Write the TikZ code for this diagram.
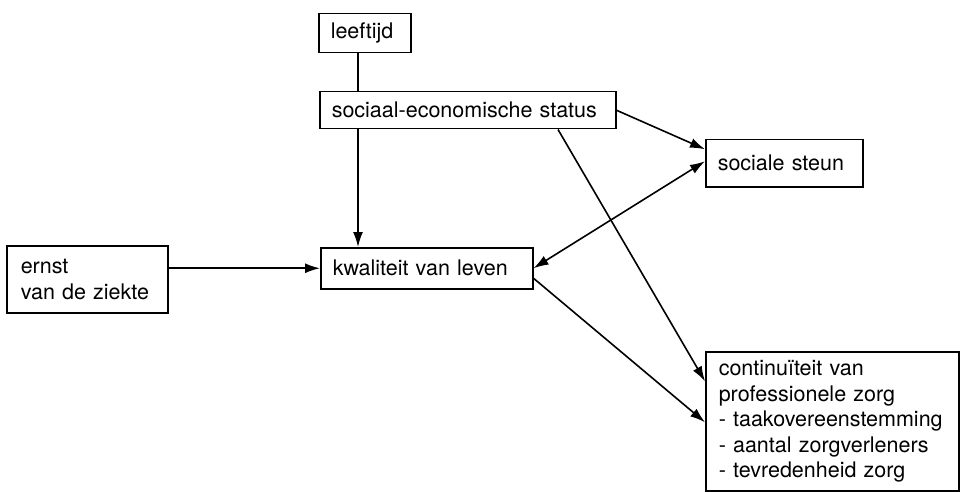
\documentclass[tikz,border=0pt]{standalone}
\usepackage{fontspec}
\setmainfont{TeX Gyre Heros}
\usetikzlibrary{arrows.meta}
\begin{document}
\begin{tikzpicture}[x=1pt,y=-1pt,
  box/.style={draw=black,line width=1.5pt,anchor=north west,inner xsep=12pt,inner ysep=0pt,
    align=left,font=\fontsize{21.5}{25.5}\selectfont},
  conn/.style={line width=1.6pt},
  arr/.style={conn,-{Latex[length=15pt,width=10pt]}},
  biarr/.style={conn,{Latex[length=15pt,width=10pt]}-{Latex[length=15pt,width=10pt]}}]
\useasboundingbox (0,0) rectangle (961,492);
\node[box,minimum width=92,minimum height=39,text width=68] (leeftijd) at (318,13) {leeftijd};
\node[box,minimum width=296,minimum height=37,text width=272] (ses) at (319,91) {sociaal-economische status};
\node[box,minimum width=212,minimum height=41,text width=188] (kw) at (320,247) {kwaliteit van leven};
\node[box,minimum width=161,minimum height=67,text width=133,inner xsep=14pt] (ernst) at (6,245) {ernst\\van de ziekte};
\node[box,minimum width=157,minimum height=47,text width=133] (steun) at (705,139) {sociale steun};
\node[box,minimum width=253,minimum height=139,text width=227,inner xsep=13pt] (cont) at (705,351) {continuïteit van\\professionele zorg\\- taakovereenstemming\\- aantal zorgverleners\\- tevredenheid zorg};
\coordinate (cx) at (358,0);
\coordinate (cs) at (558,0);
\draw[conn] (leeftijd.south -| cx) -- (ses.north -| cx);
\draw[arr] (ses.south -| cx) -- (kw.north -| cx);
\draw[arr] (kw.west -| ernst.east) -- (kw.west);
\draw[arr] (ses.east) -- ([yshift=14pt]steun.west);
\draw[biarr] (kw.east) -- ([yshift=2pt]steun.west);
\draw[arr] (ses.south -| cs) -- ([yshift=40pt]cont.west);
\draw[arr] ([yshift=-10pt]kw.east) -- ([yshift=-1pt]cont.west);
\end{tikzpicture}
\end{document}
